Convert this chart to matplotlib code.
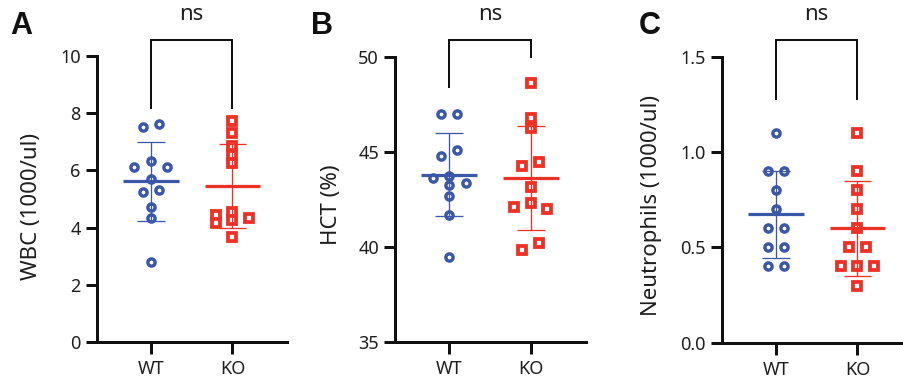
import numpy as np
import matplotlib
matplotlib.use('Agg')
import matplotlib.pyplot as plt
from matplotlib.transforms import blended_transform_factory

plt.rcParams['font.family'] = ['Noto Sans', 'DejaVu Sans']

# ---------------- data ----------------
groups = ['WT', 'KO']
wbc_wt = [7.62, 7.53, 6.33, 6.11, 6.11, 5.70, 5.31, 5.23, 4.71, 4.35, 2.81]
wbc_ko = [7.72, 7.30, 6.85, 6.55, 6.25, 4.56, 4.44, 4.32, 4.27, 4.15, 3.68]
hct_wt = [46.98, 46.98, 45.09, 44.77, 43.72, 43.60, 43.37, 43.25, 42.68, 41.67, 39.47]
hct_ko = [48.60, 46.76, 46.23, 44.47, 44.26, 43.16, 42.28, 42.11, 41.98, 40.17, 39.85]
neu_wt = [1.1, 0.9, 0.9, 0.8, 0.7, 0.6, 0.6, 0.5, 0.5, 0.4, 0.4]
neu_ko = [1.1, 0.9, 0.8, 0.7, 0.6, 0.5, 0.5, 0.4, 0.4, 0.4, 0.3]

wbc_ticks = [0, 2, 4, 6, 8, 10]
hct_ticks = [35, 40, 45, 50]
neu_ticks = [0.0, 0.5, 1.0, 1.5]
neu_ticklabels = ['0.0', '0.5', '1.0', '1.5']

sig_label = 'ns'

# ---------------- style ----------------
W, H = 904, 388
BLUE = '#3B58A8'
RED = '#EE3124'
TXT = '#1e1e1e'
fig = plt.figure(figsize=(W / 100, H / 100), dpi=100)


def px(p):
    return p * 72 / 100  # pixels -> points


def swarm(ax, xc, values, step_px=16.5, dmin_px=8.0):
    vals = np.asarray(values, float)
    tr = ax.transData
    p0 = tr.transform((0, 0))
    p1 = tr.transform((1, 1))
    xpp = p1[0] - p0[0]
    ypp = p1[1] - p0[1]
    ypx = vals * ypp
    order = list(np.argsort(-vals, kind='stable'))
    cands = [0.0]
    for k in range(1, 6):
        cands += [-k * step_px, k * step_px]
    offs = np.zeros(len(vals))
    placed = []
    for i in order:
        for c in cands:
            if all(np.hypot(c - a, ypx[i] - b) >= dmin_px for a, b in placed):
                offs[i] = c
                placed.append((c, ypx[i]))
                break
    # centre chained groups
    grp = [[order[0]]]
    for i in order[1:]:
        if abs(ypx[grp[-1][-1]] - ypx[i]) < dmin_px:
            grp[-1].append(i)
        else:
            grp.append([i])
    for g in grp:
        o = offs[g]
        offs[g] = o - (o.max() + o.min()) / 2
    return xc + offs / xpp


def panel(left_px, top_px, bottom_px, width_px, ylim, ticks, ticklabels,
          data, letter, letter_px, ylabel, ylabel_px, bracket):
    ax = fig.add_axes([left_px / W, (H - bottom_px) / H,
                       width_px / W, (bottom_px - top_px) / H])
    ax.set_xlim(-0.664, 1.673)
    ax.set_ylim(*ylim)
    for s in ['top', 'right']:
        ax.spines[s].set_visible(False)
    for s in ['left', 'bottom']:
        ax.spines[s].set_linewidth(px(3))
        ax.spines[s].set_color('#111111')
    ax.set_yticks(ticks)
    ax.set_yticklabels(ticklabels)
    ax.set_xticks(range(len(groups)))
    ax.set_xticklabels(groups)
    ax.tick_params(axis='y', length=px(11), width=px(3), color='#111111',
                   labelsize=13, labelcolor=TXT, pad=px(5))
    ax.tick_params(axis='x', length=px(12), width=px(3), color='#111111',
                   labelsize=13, labelcolor=TXT, pad=px(6))
    markers = [('o', BLUE, px(7.2), px(3.4)), ('s', RED, px(8.4), px(3.8))]
    for gi, vals in enumerate(data):
        mk, col, ms, mew = markers[gi]
        xs = swarm(ax, gi, vals)
        ax.plot(xs, vals, ls='none', marker=mk, ms=ms, mfc='white',
                mec=col, mew=mew, zorder=3, clip_on=False)
        m = np.mean(vals)
        sd = np.std(vals, ddof=1)
        ax.hlines(m, gi - 0.342, gi + 0.342, color=col, lw=px(3.2), zorder=4)
        ax.vlines(gi, m - sd, m + sd, color=col, lw=px(1.3), zorder=4)
        ax.hlines([m - sd, m + sd], gi - 0.171, gi + 0.171, color=col,
                  lw=px(1.3), zorder=4)
    # significance bracket
    top_y, leg1, leg2 = bracket
    ax.plot([0, 0, 1, 1], [leg1, top_y, top_y, leg2], color='#111111',
            lw=px(2), clip_on=False, solid_joinstyle='miter')
    bt = blended_transform_factory(ax.transData, fig.transFigure)
    ax.text(0.5, (H - 20) / H, sig_label, transform=bt, ha='center',
            va='baseline', fontsize=16, color=TXT)
    fig.text(letter_px[0] / W, (H - letter_px[1]) / H, letter,
             fontsize=22, fontweight='bold', color='#111111',
             family=['Liberation Sans', 'DejaVu Sans'],
             ha='center', va='baseline')
    fig.text(ylabel_px[0] / W, (H - ylabel_px[1]) / H, ylabel, rotation=90,
             ha='center', va='center', fontsize=16, color=TXT)
    return ax


panel(96.7, 56, 342, 190.7, (0, 10), wbc_ticks, [str(t) for t in wbc_ticks],
      [wbc_wt, wbc_ko], 'A', (21, 34), 'WBC (1000/ul)', (32, 207),
      (10.56, 8.18, 8.18))
panel(395, 56.7, 341.7, 190.5, (35, 50), hct_ticks, [str(t) for t in hct_ticks],
      [hct_wt, hct_ko], 'B', (322, 34), 'HCT (%)', (332, 205),
      (50.88, 48.4, 49.98))
panel(721.7, 56.7, 342.7, 190.7, (0, 1.5), neu_ticks, neu_ticklabels,
      [neu_wt, neu_ko], 'C', (650, 34), 'Neutrophils (1000/ul)', (651.5, 206),
      (1.587, 1.278, 1.278))

fig.savefig('out.png', dpi=100)
